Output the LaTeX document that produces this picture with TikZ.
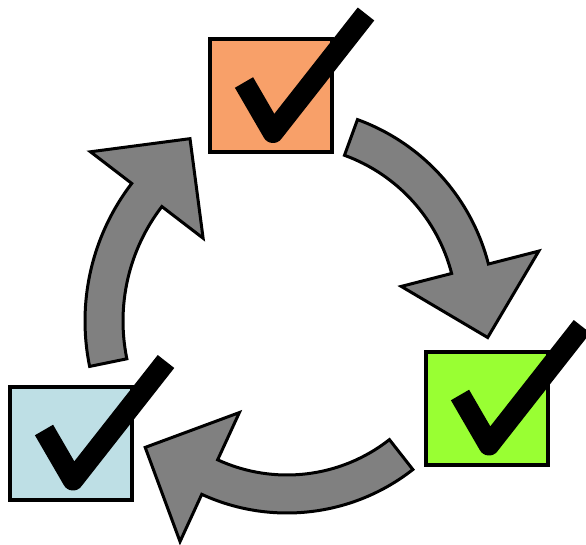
\documentclass[tikz,border=0pt]{standalone}
\usetikzlibrary{calc}
\usepackage{xcolor}

\definecolor{boxorange}{RGB}{248,160,105}
\definecolor{boxgreen}{RGB}{153,255,51}
\definecolor{boxblue}{RGB}{190,223,229}

% thick curved arrow: centre, radius, start angle, end angle
\newcommand{\cyclearrow}[4]{%
  \draw[turn] ($(#1)+({#3}:{#2+19})$) arc[start angle=#3, end angle=#4, radius=#2+19]
    -- ($(#1)+({#4}:{#2+71})$)
    -- ($(#1)+({#4}:#2)+({#4+90}:71)$)
    -- ($(#1)+({#4}:{#2-71})$)
    -- ($(#1)+({#4}:{#2-19})$)
    arc[start angle=#4, end angle=#3, radius=#2-19] -- cycle;}

\begin{document}
\begin{tikzpicture}[x=1pt, y=-1pt,
            box/.style={rectangle, draw, line width=4pt, minimum width=122pt, minimum height=113pt, inner sep=0pt},
            checkmark/.style={line width=21pt, line join=round},
            turn/.style={draw, line width=3pt, fill=gray}]

        \useasboundingbox (0,0) rectangle (586,545);

        \coordinate (c1) at (286,316);
        \coordinate (c2) at (287,309);
        \coordinate (c3) at (311,321);

        % Top box to right box
        \cyclearrow{c1}{190}{-70}{-14.4}
        % Right box to left box
        \cyclearrow{c2}{185}{51.9}{114.7}
        % Left box to top box
        \cyclearrow{c3}{207}{168.4}{217.5}

        \node [box, fill=boxorange] (boxtop) at (271,95.5) {};
        \node [box, fill=boxgreen] (boxright) at (487,408) {};
        \node [box, fill=boxblue] (boxleft) at (71,443) {};

        \foreach \b in {boxtop, boxright, boxleft}
            \draw[checkmark] ($(\b)+(-27,-13)$) -- ($(\b)+(2,37)$) -- ($(\b)+(95,-81.5)$);

    \end{tikzpicture}
\end{document}
